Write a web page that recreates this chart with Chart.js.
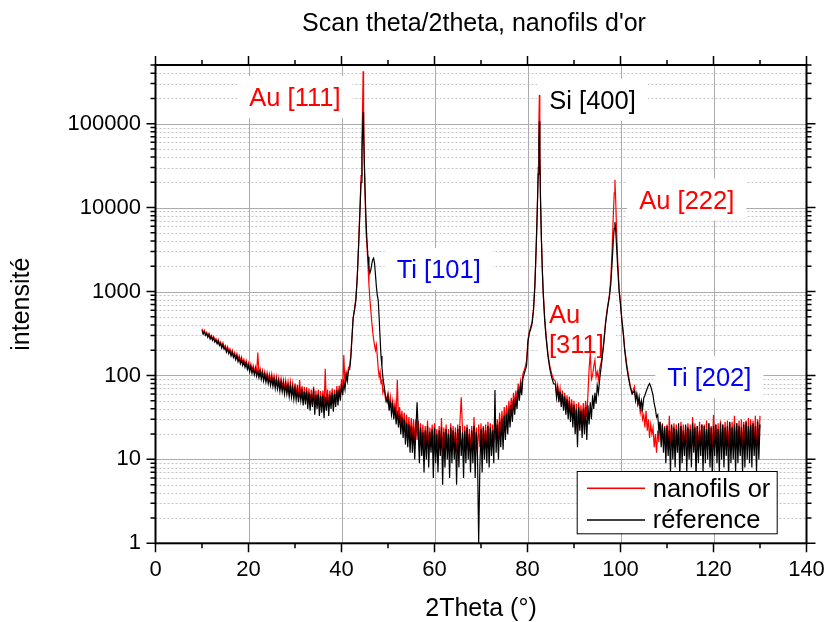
<!DOCTYPE html>
<html>
<head>
<meta charset="utf-8">
<script src="https://cdn.jsdelivr.net/npm/chart.js@4.4.0/dist/chart.umd.min.js"></script>
<style>
  html, body { margin: 0; padding: 0; background: #fff; }
</style>
</head>
<body>
<canvas id="xrd" width="824" height="622" style="width:824px;height:622px"></canvas>
<script>
// --- scan -------------------------------------------------------------
// flat parts of the scan are sampled every 0.25°, the peaks on their own angles
const SCAN_STEP = 0.25;

// 10° -> 42°
const goldLow = [
    360, 320, 345, 312,  328, 296, 318, 285,  302, 272, 292, 262,  275, 248, 268, 238,
    252, 222, 245, 215,  228, 200, 220, 192,  208, 180, 200, 172,  188, 164, 182, 156,
    172, 148, 166, 142,  156, 134, 150, 128,  142, 120, 137, 115,  131, 110, 127, 106,
    188, 104, 120, 98,   115, 94, 111, 90,    108, 88, 104, 84,    104, 82, 98, 77,
    96, 76, 93, 72,      92, 71, 88, 67,      87, 66, 84, 62,      84, 61, 80, 58,
    80, 57, 77, 54,      88, 54, 74, 50,      73, 50, 72, 47,      70, 46, 68, 45,
    74, 42, 66, 44,      68, 41, 65, 43,      66, 40, 120, 44,     68, 41, 66, 45,
    70, 44, 68, 48,      75, 52, 76, 56,      90, 66, 175, 76,     110, 95, 125, 128,
    175
];
const refLow = [
    345, 310, 330, 300,  315, 285, 305, 272,  290, 262, 280, 250,  262, 238, 255, 226,
    240, 212, 232, 205,  216, 190, 208, 182,  195, 170, 188, 163,  176, 154, 170, 146,
    160, 138, 155, 132,  145, 125, 140, 118,  131, 110, 127, 106,  121, 102, 118, 98,
    113, 94, 110, 90,    106, 86, 102, 83,    99, 80, 95, 76,      93, 74, 90, 70,
    88, 69, 85, 65,      83, 64, 80, 60,      78, 60, 75, 56,      74, 55, 71, 52,
    70, 51, 68, 48,      67, 50, 65, 44,      64, 45, 66, 40,      62, 38, 60, 42,
    70, 34, 58, 40,      60, 33, 57, 36,      58, 31, 56, 38,      60, 33, 58, 40,
    62, 37, 60, 42,      66, 44, 68, 50,      78, 58, 82, 68,      100, 85, 115, 118,
    160
];

// Au [111] + Ti [101]
const peak111Angles = [
    42.5, 42.8, 43.1, 43.4, 43.7, 44.0, 44.2, 44.4, 44.55, 44.65,
    44.75, 44.9, 45.1, 45.3, 45.5, 45.7, 45.9, 46.1, 46.3, 46.5,
    46.7, 46.9, 47.1, 47.3, 47.5, 47.7, 47.9, 48.1, 48.3, 48.5,
    48.7, 48.9, 49.2, 49.5, 49.8
];
const goldPeak111 = [
    480, 620, 830, 1550, 4000, 11000, 24000, 60000, 180000, 420000,
    150000, 40000, 12000, 5000, 3300, 2000, 1200, 820, 600, 440,
    340, 270, 230, 200, 230, 170, 120, 96, 110, 80,
    90, 62, 70, 50, 56
];
const refPeak111 = [
    480, 600, 800, 1500, 3700, 10000, 20000, 45000, 90000, 137000,
    80000, 35000, 14000, 6500, 3800, 2600, 1900, 1650, 1800, 2100,
    2400, 2500, 2200, 1600, 1150, 900, 790, 480, 280, 170,
    126, 95, 72, 55, 48
];

// 50° -> 79°
const goldMid = [
    62, 44, 56, 40,   50, 36, 47, 32,   89, 30, 42, 27,   38, 24, 36, 21,
    34, 20, 32, 18,   31, 18, 30, 16,   30, 17, 29, 15,   27, 15, 26, 14,
    25, 14, 29, 13,   24, 15, 26, 13,   27, 14, 23, 12,   25, 13, 31, 12,
    24, 14, 26, 13,   23, 12, 27, 14,   25, 13, 24, 12,   26, 14, 30, 55,
    24, 12, 25, 14,   26, 13, 23, 12,   25, 14, 32, 13,   24, 12, 26, 14,
    27, 13, 25, 15,   26, 14, 28, 13,   27, 15, 26, 16,   29, 17, 30, 18,
    36, 20, 38, 22,   42, 26, 44, 28,   50, 34, 54, 38,   62, 44, 66, 50,
    80, 62, 86, 70,
    104
];
const refMid = [
    56, 38, 50, 34,   44, 30, 42, 26,   38, 24, 35, 20,   32, 18, 30, 15,
    27, 14, 26, 12,   25, 12, 24, 10,   23, 48, 22, 9,    24, 11, 21, 7,
    22, 10, 25, 8,    21, 12, 23, 6,    24, 9, 20, 7,     22, 11, 24, 5,
    21, 8, 23, 10,    20, 6, 24, 9,     22, 10, 21, 5,    23, 8, 25, 11,
    21, 6, 22, 9,     24, 10, 20, 7,    22, 9, 25, 6,     21, 11, 1, 8,
    23, 7, 24, 10,    22, 9, 25, 8,     24, 11, 22, 9,    67, 12, 26, 10,
    28, 14, 30, 13,   33, 17, 35, 20,   40, 24, 44, 28,   52, 34, 55, 40,
    68, 50, 75, 58,
    92
];

// Si [400]
const peakSiAngles = [
    79.4, 79.8, 80.1, 80.4, 80.7, 81.0, 81.3, 81.6, 81.9, 82.1,
    82.3, 82.45, 82.55, 82.65, 82.8, 83.0, 83.2, 83.4, 83.7, 84.0,
    84.4, 84.8, 85.2, 85.6
];
const goldPeakSi = [
    120, 150, 270, 330, 380, 440, 640, 1250, 3600, 9500,
    30000, 100000, 220000, 60000, 13000, 4200, 1800, 950, 480, 300,
    180, 130, 105, 90
];
const refPeakSi = [
    110, 130, 250, 320, 360, 420, 600, 1200, 4000, 9000,
    25000, 60000, 107000, 40000, 12000, 4000, 1700, 900, 450, 280,
    170, 120, 95, 80
];

// 86° -> 95.5° (Au [311])
const goldAu311 = [
    86, 60, 76, 54,   70, 48, 66, 44,   62, 40, 58, 36,   56, 34, 52, 30,
    50, 26, 46, 22,   48, 28, 44, 26,   47, 30, 50, 32,   60, 120, 185, 90,
    100, 130, 152, 96,
    110, 90, 118
];
const refAu311 = [
    78, 54, 70, 48,   64, 42, 60, 38,   56, 34, 52, 30,   50, 28, 46, 24,
    44, 20, 40, 14,   42, 22, 38, 18,   40, 20, 42, 17,   44, 26, 48, 30,
    58, 40, 62, 46,
    76, 62, 88
];

// Au [222]
const peak222Angles = [
    96.0, 96.4, 96.8, 97.2, 97.6, 97.9, 98.2, 98.45, 98.65, 98.8,
    98.95, 99.15, 99.4, 99.7, 100.0, 100.3, 100.6, 100.9, 101.3, 101.7,
    102.1, 102.5
];
const goldPeak222 = [
    160, 250, 440, 650, 900, 1400, 3200, 8000, 15000, 21500,
    13000, 5500, 2300, 1100, 720, 460, 320, 210, 140, 100,
    75, 62
];
const refPeak222 = [
    150, 240, 420, 620, 850, 1200, 2200, 4000, 5600, 6700,
    5600, 3500, 1900, 1000, 700, 450, 315, 200, 130, 95,
    73, 60
];

// 103° -> 130° (Ti [202])
const goldHigh = [
    74, 54, 60, 45,   50, 36, 44, 30,   34, 24, 38, 22,   30, 18, 26, 20,
    24, 14, 20, 12,   22, 16, 28, 17,   27, 15, 25, 14,   26, 13, 33, 15,
    25, 14, 27, 13,   26, 15, 24, 12,   28, 14, 26, 13,   25, 15, 27, 14,
    26, 12, 32, 15,   27, 14, 25, 13,   28, 15, 26, 12,   26, 13, 29, 14,
    27, 15, 25, 13,   34, 14, 26, 15,   27, 12, 29, 14,   26, 15, 28, 13,
    29, 14, 27, 15,   28, 13, 33, 14,   27, 15, 29, 12,   30, 14, 28, 15,
    29, 13, 31, 14,   30, 15, 29, 13,   33, 14, 30, 15,
    33
];
const refHigh = [
    66, 50, 60, 46,   56, 42, 50, 40,   54, 58, 64, 70,   76, 80, 74, 66,
    58, 46, 40, 32,   34, 22, 28, 14,   26, 12, 24, 9,    25, 11, 22, 7,
    26, 10, 24, 8,    23, 12, 27, 6,    25, 9, 22, 11,    26, 7, 24, 10,
    23, 8, 27, 12,    24, 6, 25, 9,     22, 11, 26, 7,    25, 9, 23, 10,
    27, 8, 24, 6,     25, 11, 26, 9,    23, 7, 27, 10,    26, 8, 24, 11,
    25, 6, 28, 9,     24, 10, 26, 7,    27, 9, 25, 11,    24, 7, 26, 8,
    28, 10, 25, 9,    26, 8, 27, 11,    25, 7, 28, 10,
    26
];

const angleTicks = [0, 20, 40, 60, 80, 100, 120, 140];
const decadeTicks = [1, 10, 100, 1000, 10000, 100000];

// peak names, anchored at (2theta of the text's left edge, intensity of its baseline)
const peakNotes = [
    { lines: ["Au [111]"], angle: 20.17, count: 161900, color: "#ff0000" },
    { lines: ["Si [400]"], angle: 84.69, count: 150900, color: "#000000" },
    { lines: ["Au [222]"], angle: 104.04, count: 9730, color: "#ff0000" },
    { lines: ["Ti [101]"], angle: 51.87, count: 1452, color: "#0000ff" },
    { lines: ["Au", "[311]"], angle: 84.6, count: 423, color: "#ff0000" },
    { lines: ["Ti [202]"], angle: 110.06, count: 74.6, color: "#0000ff" }
];

const FONT = "'Liberation Sans', Arial, Helvetica, sans-serif";

// --- assemble the two scans -------------------------------------------
function stepped(from, counts) {
    return counts.map((c, i) => ({ x: from + i * SCAN_STEP, y: c }));
}
function paired(angles, counts) {
    return angles.map((a, i) => ({ x: a, y: counts[i] }));
}

const goldScan = [
    ...stepped(10, goldLow),
    ...paired(peak111Angles, goldPeak111),
    ...stepped(50, goldMid),
    ...paired(peakSiAngles, goldPeakSi),
    ...stepped(86, goldAu311),
    ...paired(peak222Angles, goldPeak222),
    ...stepped(103, goldHigh)
];
const refScan = [
    ...stepped(10, refLow),
    ...paired(peak111Angles, refPeak111),
    ...stepped(50, refMid),
    ...paired(peakSiAngles, refPeakSi),
    ...stepped(86, refAu311),
    ...paired(peak222Angles, refPeak222),
    ...stepped(103, refHigh)
];

const plotDecor = {
    id: "plotDecor",
    beforeDatasetsDraw(chart) {
        const { ctx, chartArea: a, scales: { x, y } } = chart;
        ctx.save();

        // titre
        ctx.fillStyle = "#000";
        ctx.font = `25px ${FONT}`;
        ctx.textAlign = "center";
        ctx.textBaseline = "middle";
        ctx.fillText("Scan theta/2theta, nanofils d'or", 474, 24);

        // grille secondaire pointillée
        ctx.lineWidth = 1;
        ctx.strokeStyle = "#c4c4c4";
        ctx.setLineDash([2, 2]);
        ctx.beginPath();
        decadeTicks.forEach(d => {
            for (let m = 2; m <= 9; m++) {
                const v = d * m;
                if (v >= y.max) continue;
                const py = Math.round(y.getPixelForValue(v)) + 0.5;
                ctx.moveTo(a.left, py);
                ctx.lineTo(a.right, py);
            }
        });
        ctx.stroke();

        // grille principale
        ctx.setLineDash([]);
        ctx.strokeStyle = "#ababab";
        ctx.beginPath();
        decadeTicks.slice(1).forEach(v => {
            const py = Math.round(y.getPixelForValue(v)) + 0.5;
            ctx.moveTo(a.left, py);
            ctx.lineTo(a.right, py);
        });
        angleTicks.slice(1, -1).forEach(v => {
            const px = Math.round(x.getPixelForValue(v)) + 0.5;
            ctx.moveTo(px, a.top);
            ctx.lineTo(px, a.bottom);
        });
        ctx.stroke();

        // étiquettes des pics, sur fond blanc
        ctx.font = `25.5px ${FONT}`;
        ctx.textBaseline = "alphabetic";
        ctx.textAlign = "left";
        peakNotes.forEach(n => {
            const px = x.getPixelForValue(n.angle);
            const py = y.getPixelForValue(n.count);
            const w = Math.max(...n.lines.map(t => ctx.measureText(t).width));
            const h = 42 + (n.lines.length - 1) * 30.6;
            ctx.fillStyle = "#fff";
            ctx.fillRect(px - 12, py - 30, w + 24, h);
            ctx.fillStyle = n.color;
            n.lines.forEach((t, i) => ctx.fillText(t, px, py + i * 30.6));
        });
        ctx.restore();
    },
    afterDatasetsDraw(chart) {
        const { ctx, chartArea: a, scales: { x, y } } = chart;
        ctx.save();

        // cadre + graduations vers l'extérieur
        ctx.strokeStyle = "#000";
        ctx.lineWidth = 2;
        ctx.strokeRect(a.left, a.top, a.right - a.left, a.bottom - a.top);
        ctx.beginPath();
        for (let v = 0; v <= 140; v += 10) {
            const px = x.getPixelForValue(v);
            const len = v % 20 === 0 ? 9 : 5;
            ctx.moveTo(px, a.bottom);
            ctx.lineTo(px, a.bottom + len);
            ctx.moveTo(px, a.top);
            ctx.lineTo(px, a.top - len);
        }
        decadeTicks.forEach(d => {
            for (let m = 1; m <= 9; m++) {
                const v = d * m;
                if (v > y.max) break;
                const py = y.getPixelForValue(v);
                const len = m === 1 ? 9 : 5;
                ctx.moveTo(a.left, py);
                ctx.lineTo(a.left - len, py);
                ctx.moveTo(a.right, py);
                ctx.lineTo(a.right + len, py);
            }
        });
        ctx.lineWidth = 1.5;
        ctx.stroke();

        // légende
        const lx = 576.7, ly = 471, lw = 200, lh = 62.3;
        ctx.fillStyle = "#fff";
        ctx.fillRect(lx, ly, lw, lh);
        ctx.lineWidth = 1;
        ctx.strokeStyle = "#000";
        ctx.strokeRect(lx + 0.5, ly + 0.5, lw, lh);
        ctx.font = `25.5px ${FONT}`;
        ctx.textBaseline = "alphabetic";
        chart.data.datasets.forEach((ds, i) => {
            const rowY = 488.3 + i * 31.7;
            ctx.strokeStyle = ds.borderColor;
            ctx.lineWidth = 1.5;
            ctx.beginPath();
            ctx.moveTo(587, rowY);
            ctx.lineTo(645, rowY);
            ctx.stroke();
            ctx.fillStyle = "#000";
            ctx.fillText(ds.label, 652.7, rowY + 8.4);
        });
        ctx.restore();
    }
};

new Chart(document.getElementById("xrd"), {
    type: "line",
    data: {
        datasets: [
            {
                label: "nanofils or",
                data: goldScan,
                borderColor: "#ff0000",
                borderWidth: 1.2,
                pointRadius: 0,
                tension: 0,
                order: 2
            },
            {
                label: "réference",
                data: refScan,
                borderColor: "#000000",
                borderWidth: 1.2,
                pointRadius: 0,
                tension: 0,
                order: 1
            }
        ]
    },
    options: {
        responsive: false,
        animation: false,
        layout: { padding: { left: 0, right: 17.5, top: 65, bottom: 0 } },
        plugins: {
            legend: { display: false },
            tooltip: { enabled: false },
            title: { display: false }
        },
        scales: {
            x: {
                type: "linear",
                min: 0,
                max: 140,
                afterBuildTicks: s => { s.ticks = angleTicks.map(value => ({ value })); },
                afterFit: s => { s.height = 78.7; s.paddingLeft = 0; s.paddingRight = 0; },
                grid: { display: false, drawTicks: false },
                border: { display: false },
                ticks: {
                    color: "#000",
                    font: { family: FONT, size: 22 },
                    padding: 13,
                    maxRotation: 0,
                    autoSkip: false
                },
                title: {
                    display: true,
                    text: "2Theta (°)",
                    color: "#000",
                    font: { family: FONT, size: 25, lineHeight: 1 },
                    padding: { top: 0, bottom: 0.5 }
                }
            },
            y: {
                type: "logarithmic",
                min: 1,
                max: 500000,
                afterBuildTicks: s => { s.ticks = decadeTicks.map(value => ({ value })); },
                afterFit: s => { s.width = 155.5; s.paddingTop = 0; s.paddingBottom = 0; },
                grid: { display: false, drawTicks: false },
                border: { display: false },
                ticks: {
                    color: "#000",
                    font: { family: FONT, size: 22 },
                    padding: 14.5,
                    callback: v => String(v)
                },
                title: {
                    display: true,
                    text: "intensité",
                    color: "#000",
                    font: { family: FONT, size: 25, lineHeight: 1 },
                    padding: { top: 9.5, bottom: 0 }
                }
            }
        }
    },
    plugins: [plotDecor]
});
</script>
</body>
</html>
